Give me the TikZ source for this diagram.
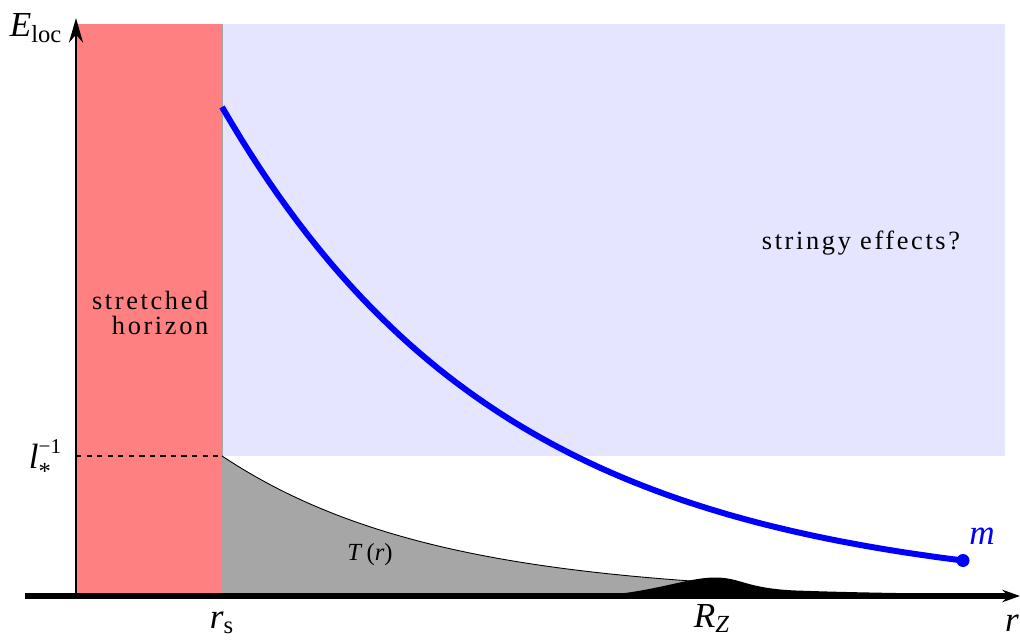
\documentclass[tikz,border=0pt]{standalone}
\usepackage{fontspec}
\setmainfont{Liberation Serif}
\newfontfamily\spacedfont[LetterSpace=10]{Liberation Serif}
\usetikzlibrary{arrows.meta,positioning}

\begin{document}
\begin{tikzpicture}[thick,
    axislabel/.style={font=\fontsize{20}{24}\selectfont, inner sep=0pt},
    zonetext/.style={font=\spacedfont\fontsize{15}{14}\selectfont, inner sep=0pt}]
    \useasboundingbox (-1.52,-0.86) rectangle (18.88,11.92);

    % Regions
    \fill[blue!10] (2.92,2.8) rectangle (18.58,11.44);
    \fill[red!50] (0,0) rectangle (2.92,11.44);
    \draw[black!35, line width=0.8pt] (2.92,0) -- (2.92,11.44);
    \node[zonetext, align=right, anchor=east] (horizon) at (2.66,5.66) {stretched\\horizon};
    \node[zonetext, anchor=base] (stringy) at (15.7,6.92) {stringy effects?};

    % T(r)
    \fill[black!35] (2.92,0) -- plot[domain=2.92:12.6, samples=60] (\x,{2.8*exp(-(\x-2.92)/4.2)}) -- (12.6,0) -- cycle;
    \draw[line width=0.5pt] plot[domain=2.92:12.6, samples=60] (\x,{2.8*exp(-(\x-2.92)/4.2)});
    \node[font=\fontsize{14}{16}\selectfont, inner sep=0pt, anchor=base] (temp) at (5.88,0.71) {\textit{T}\,(\textit{r})};

    % Bump at R_Z
    \fill (10.3,0) .. controls (11.5,0.05) and (12.2,0.37) .. (12.78,0.37)
        .. controls (13.3,0.37) and (13.4,0.15) .. (14.4,0.11)
        .. controls (15.5,0.07) and (16.5,0.06) .. (17.5,0.04) -- (17.5,0) -- cycle;

    % l_*^{-1}
    \coordinate (lstar) at (0,2.8);
    \coordinate (rs) at (2.92,2.8);
    \draw[dashed, line width=0.6pt] (lstar) -- (rs);
    \node[axislabel, anchor=base] (linv) at (-0.62,2.56)
        {\textit{l}\rlap{\raisebox{-6.5pt}{\fontsize{14}{14}\selectfont *}}\raisebox{8pt}{\fontsize{12}{12}\selectfont −1}};

    % Axes
    \coordinate (O) at (0,0);
    \coordinate (xstart) at (-1.02,0);
    \coordinate (xend) at (18.88,0);
    \coordinate (yend) at (0,11.56);
    \draw[line width=1.7pt, -{Stealth[length=14pt,width=8pt]}] (O) -- (yend);
    \draw[line width=3.4pt, -{Stealth[length=10pt,width=7pt]}] (xstart) -- (xend);
    \node[axislabel, anchor=base] (eloc) at (-0.8,11.18) {\textit{E}\textsubscript{loc}};
    \node[axislabel, anchor=base] (rslabel) at (2.92,-0.64) {\textit{r}\textsubscript{s}};
    \node[axislabel, anchor=base] (rzlabel) at (12.72,-0.62) {\textit{R}\textsubscript{\textit{Z}}};
    \node[axislabel, anchor=base] (rlabel) at (18.72,-0.7) {\textit{r}};

    % Mass curve
    \draw[blue, line width=3.4pt] plot[domain=2.92:17.74, samples=80] (\x,{9.78*exp(-(\x-2.92)/5.65)});
    \node[circle, fill=blue, inner sep=0pt, minimum size=0.26cm] (mdot) at (17.74,0.71) {};
    \node[axislabel, blue, anchor=south west, above right=0.2cm and 0.01cm of mdot] (mlabel) {\textit{m}};
\end{tikzpicture}
\end{document}
